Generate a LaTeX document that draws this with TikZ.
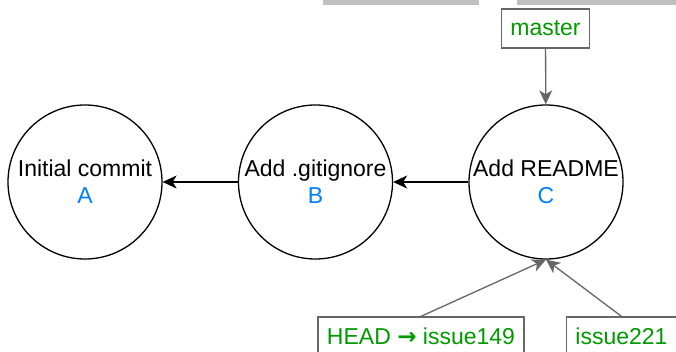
\documentclass[tikz,border=0pt]{standalone}
\usepackage{fontspec}
\setmainfont{Liberation Sans}
\newfontfamily\arrowfont{DejaVu Sans}
\usepackage{tikz}
\usetikzlibrary{arrows.meta}
\definecolor{refgreen}{HTML}{009900}
\definecolor{refblue}{HTML}{007FFF}
\definecolor{refgray}{HTML}{666666}
\definecolor{bargray}{HTML}{C0C0C0}

\begin{document}
\begin{tikzpicture}[x=1pt, y=-1pt, >={Stealth[length=14pt,width=13pt,inset=4pt]},
    commit/.style={draw, circle, line width=1.3pt, minimum size=154pt, inner sep=0pt,
        align=center, font=\fontsize{23}{27}\selectfont},
    branch/.style={draw=refgray, line width=1.3pt, fill=white, text=refgreen,
        minimum height=39pt, inner xsep=9pt, font=\fontsize{23}{26}\selectfont},
    ref/.style={->, refgray, line width=1.3pt}]
    \useasboundingbox (0,0) rectangle (676,352);
    % cut-off boxes at the top
    \fill[bargray] (323,-2) rectangle (479,5);
    \fill[bargray] (517,-2) rectangle (680,5);
    % commits
    \node[commit] (A) at (85,182) {Initial commit\\\textcolor{refblue}{A}};
    \node[commit] (B) at (315.5,182) {Add .gitignore\\\textcolor{refblue}{B}};
    \node[commit] (C) at (546,182) {Add README\\\textcolor{refblue}{C}};
    \draw[->, line width=1.3pt] (B) -- (A);
    \draw[->, line width=1.3pt] (C) -- (B);
    % branches
    \node[branch] (master) at (545.5,28.5) {master};
    \node[branch] (issue149) at (421,336.5) {HEAD {\arrowfont\bfseries →} issue149};
    \node[branch] (issue221) at (621.5,336.5) {issue221};
    \draw[ref] (master) -- (C);
    \draw[ref] (issue149.north) -- (C.south);
    \draw[ref] (issue221.north) -- (C.south);
\end{tikzpicture}
\end{document}
